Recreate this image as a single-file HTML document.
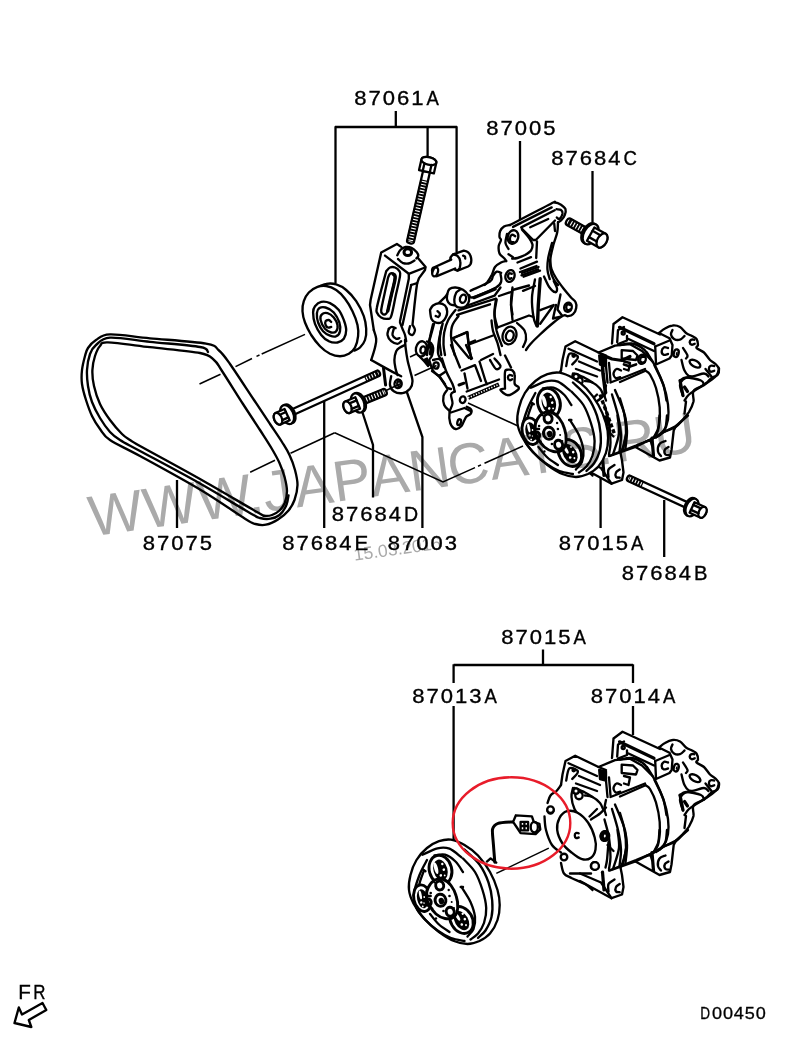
<!DOCTYPE html>
<html>
<head>
<meta charset="utf-8">
<title>D00450</title>
<style>
html,body{margin:0;padding:0;background:#fff;}
body{width:800px;height:1044px;overflow:hidden;}
svg{display:block;}
text{font-family:"Liberation Sans",sans-serif;}
.t{font-size:20.6px;letter-spacing:1.86px;fill:#000;stroke:#000;stroke-width:0.35px;}
.ts{font-size:16.6px;letter-spacing:0.78px;fill:#000;stroke:#000;stroke-width:0.3px;}
.wm{font-size:57.6px;letter-spacing:0.55px;fill:#aaaaaa;}
.wd{font-size:17.6px;fill:#aaaaaa;}
.l{fill:none;stroke:#000;stroke-width:2.3;stroke-linecap:butt;stroke-linejoin:miter;}
.c{fill:none;stroke:#000;stroke-width:1.5;stroke-linecap:butt;}
.k{fill:none;stroke:#000;stroke-width:2.35;stroke-linecap:round;stroke-linejoin:round;}
.w{fill:#fff;stroke:#000;stroke-width:2.35;stroke-linecap:round;stroke-linejoin:round;}
.n{fill:none;stroke:#000;stroke-width:1.4;stroke-linecap:round;stroke-linejoin:round;}
.nw{fill:#fff;stroke:#000;stroke-width:1.4;stroke-linecap:round;stroke-linejoin:round;}
.b{fill:#000;stroke:none;}
.wf{fill:#fff;stroke:none;}
.blend{mix-blend-mode:multiply;}
</style>
</head>
<body>
<svg width="800" height="1044" viewBox="0 0 800 1044">
<rect width="800" height="1044" fill="#fff"/>

<!-- LEADER LINES -->
<g id="leaders">
<path class="l" d="M395.8 111V127"/>
<path class="l" d="M335 127H457"/>
<path class="l" d="M335.5 126.3V283.5"/>
<path class="l" d="M456.6 126.3V252"/>
<path class="l" d="M427.6 127V156.5"/>
<path class="l" d="M520 141V220"/>
<path class="l" d="M592.5 171V222.5"/>
<path class="l" d="M177 480V528"/>
<path class="l" d="M324.2 400V528"/>
<path class="l" d="M362.5 412.5L373 445V497.5"/>
<path class="l" d="M406.5 391L422.4 437V528"/>
<path class="l" d="M600.6 477V528"/>
<path class="l" d="M664.2 500V557"/>
<path class="l" d="M543 649.5V665"/>
<path class="l" d="M453.6 665H633"/>
<path class="l" d="M453.6 664.3V683"/>
<path class="l" d="M633 664.3V683"/>
<path class="l" d="M453.6 706V840"/>
<path class="l" d="M633 706V735"/>
</g>
<!-- CENTER LINES -->
<g id="centerlines">
<path class="c" d="M305 334.4L261.7 354"/>
<path class="c" d="M259.5 355L256.5 356.4"/>
<path class="c" d="M252 358.5L235.5 366.7"/>
<path class="c" d="M220.5 374.2L199.5 384"/>
<path class="c" d="M334.7 432.7L290.5 453.3"/>
<path class="c" d="M275 460.2L250.2 472.2"/>
<path class="c" d="M334.7 432.7L443 482L475 467.6"/>
<path class="c" d="M478 466.2L481 464.9"/>
<path class="c" d="M484.5 463.3L523 446"/>
<path class="c" d="M468 403L518 426"/>
<path class="c" d="M386 390.5L401 383.5"/>
<path class="c" d="M410 357L421.5 351.5"/>
<path class="c" d="M414.5 375.5L436.5 365.5"/>
</g>
<!-- BELT -->
<g id="belt">
<path class="k" d="M110 334.4C119 334.1 134 336.8 150 338.3C166 339.8 194.5 341.6 206 343.6C217.5 345.6 215 347.1 219 350.5C223 353.9 224.2 355.8 230 364C235.8 372.2 247.3 390 254 400C260.7 410 265.3 417 270 424C274.7 431 278.8 436.8 282 442C285.2 447.2 287.3 450.3 289.5 455C291.7 459.7 293.7 465 295 470C296.3 475 297.6 480 297.5 485C297.4 490 296 495.8 294.5 500C293 504.2 291.2 507.2 288.5 510.5C285.8 513.8 281.8 517.1 278 519.5C274.2 521.9 269.8 524 266 524.7C262.2 525.5 259 525 255.5 524C252 523 254.2 524.5 245 518.7C235.8 513 217.5 499.9 200 489.5C182.5 479.1 155 464.2 140 456C125 447.8 116.7 444.5 110 440C103.3 435.5 103 433 100 429C97 425 94.3 420.8 92 416C89.7 411.2 87.7 405.3 86 400C84.3 394.7 82.7 389 82 384C81.3 379 81.5 374.7 82 370C82.5 365.3 84 359.7 85 356C86 352.3 86.2 350.7 88 348C89.8 345.3 92.3 342.3 96 340C99.7 337.7 101 334.7 110 334.4Z"/>
<path class="k" d="M108 342.4C116.3 342.6 134.7 345.4 150 347.2C165.3 349 189.3 350.9 200 353C210.7 355.1 210.3 357 214 360C217.7 363 217.2 363.7 222 371C226.8 378.3 236.7 394.2 243 404C249.3 413.8 255.2 422.5 260 430C264.8 437.5 268.8 443.5 272 449C275.2 454.5 277.4 458.2 279.5 463C281.6 467.8 283.4 472.8 284.7 477.5C285.9 482.2 287 486.8 287 491C287 495.2 285.9 499.8 284.7 503C283.4 506.2 281.6 508.5 279.5 510.5C277.4 512.5 274.5 514.1 272 515C269.5 515.9 267 516.2 264.5 515.7C262 515.2 267.8 518.1 257 512C246.2 505.9 219.5 490 200 479C180.5 468 151.7 452.5 140 446C128.3 439.5 133 442 130 440C127 438 125.3 437.3 122 434C118.7 430.7 113.7 425 110 420C106.3 415 102.7 409.7 100 404C97.3 398.3 95.3 391.7 94 386C92.7 380.3 92.2 375 92.4 370C92.6 365 93.7 360 95 356C96.3 352 97.8 348.3 100 346C102.2 343.7 99.7 342.2 108 342.4Z"/>
<path class="k" d="M208 352C206.7 351.2 209.7 348.7 200 347C190.3 345.3 165 343.4 150 341.8C135 340.2 119 337.1 110 337.6C101 338.1 99.3 342.3 96 345C92.7 347.7 91.5 349.8 90 354C88.5 358.2 87.3 364.7 87 370C86.7 375.3 87.2 380.7 88 386C88.8 391.3 90 396.7 92 402C94 407.3 97 413 100 418C103 423 106.7 428.3 110 432C113.3 435.7 115 436.8 120 440C125 443.2 126.7 443.8 140 451C153.3 458.2 181.8 473.2 200 483.5C218.2 493.8 239.5 507 249.5 512.7C259.5 518.5 256.5 517 260 518C263.5 519 267.2 519.2 270.5 518.7C273.8 518.2 276.9 517.1 279.5 515C282.1 512.9 284.5 509.2 286 506C287.5 502.8 288.1 497.2 288.5 495.5"/>
</g>
<!-- IDLER PULLEY -->
<g id="pulley">
<path class="w" d="M319.4 286.5C320.5 286 323.4 284.1 326.2 283.8C329.1 283.4 332.9 283.3 336.2 284.4C339.6 285.4 342.9 287.2 346.2 290C349.6 292.8 353.3 296.9 356.2 301.2C359.2 305.6 362.1 311.7 363.8 316.2C365.4 320.8 366 324.8 366.2 328.8C366.5 332.7 366 336.9 365 340C364 343.1 361.8 345.7 360 347.5C358.2 349.3 355.3 350.1 354.4 350.6"/>
<path class="w" d="M302.5 311.2C302.3 307.7 302.7 304.4 303.8 301.2C304.8 298.1 306.5 294.9 308.8 292.5C311 290.1 314.6 288 317.5 286.9C320.4 285.8 323.1 285.5 326.2 286C329.4 286.5 333.1 287.9 336.2 290C339.4 292.1 342.3 295.2 345 298.8C347.7 302.3 350.4 306.9 352.5 311.2C354.6 315.6 356.6 320.8 357.5 325C358.4 329.2 358.5 332.5 358.1 336.2C357.7 340 356.6 344.6 355 347.5C353.4 350.4 351.2 352.3 348.8 353.8C346.2 355.2 343.1 356.2 340 356.2C336.9 356.2 333.3 355.4 330 353.8C326.7 352.1 323.1 349.4 320 346.2C316.9 343.1 313.8 339 311.2 335C308.8 331 306.5 326.5 305 322.5C303.5 318.5 302.7 314.8 302.5 311.2Z"/>
<path class="k" d="M313.1 312.5C313.1 309.6 313.6 308 315 306.2C316.4 304.5 318.8 302.4 321.2 301.9C323.8 301.4 327.1 301.8 330 303.1C332.9 304.5 336.5 307.2 338.8 310C341 312.8 342.5 316.7 343.8 320C345 323.3 346.2 326.9 346.2 330C346.2 333.1 345.2 336.7 343.8 338.8C342.3 340.8 340 342.1 337.5 342.5C335 342.9 331.5 342.5 328.8 341.2C326 340 323.5 337.9 321.2 335C319 332.1 316.4 327.5 315 323.8C313.6 320 313.1 315.4 313.1 312.5Z"/>
<path class="k" d="M316.9 313.1C317.1 310.7 317.9 309.1 319.4 308.1C320.8 307.2 323.2 306.8 325.6 307.5C328 308.2 331.5 310 333.8 312.5C336 315 338.3 319.4 339.4 322.5C340.4 325.6 340.5 329 340 331.2C339.5 333.5 337.9 335.5 336.2 336.2C334.6 337 332.2 336.5 330 335.6C327.8 334.8 325.1 333.4 323.1 331.2C321.1 329.1 319.2 325.5 318.1 322.5C317.1 319.5 316.7 315.5 316.9 313.1Z"/>
<path class="k" d="M320.6 320C320.1 317.6 320.7 315.5 321.9 314.4C323 313.2 325.5 312.6 327.5 313.1C329.5 313.6 332.1 315.5 333.8 317.5C335.4 319.5 337.1 322.7 337.5 325C337.9 327.3 337.3 330 336.2 331.2C335.2 332.5 333.1 332.9 331.2 332.5C329.4 332.1 326.8 330.8 325 328.8C323.2 326.7 321.1 322.4 320.6 320Z"/>
<path class="k" d="M331.2 321.9C330.8 321.6 329.7 320.1 328.8 320C327.8 319.9 326.1 320.4 325.6 321.2C325.1 322.1 325.2 324 325.6 325C326 326 327.2 327.2 328.1 327.5C329.1 327.8 330.7 327 331.2 326.9"/>
</g>
<!-- TENSIONER BRACKET 87003 -->
<g id="tens">
<path class="k" d="M386.2 271.2C386.9 270.6 388.5 268.1 390 267.5C391.5 266.9 393.4 266.9 395 267.5C396.6 268.1 398.5 269.8 399.4 271.2C400.2 272.7 400.6 272.1 400 276.2C399.4 280.4 397.1 289.6 395.6 296.2C394.2 302.9 392.6 312.5 391.2 316.2C389.9 320 389.2 318.5 387.5 318.8C385.8 319 383 318.5 381.2 317.5C379.5 316.5 377.6 314.2 376.9 312.5C376.1 310.8 376.1 311.2 376.9 307.5C377.6 303.8 379.7 296 381.2 290C382.8 284 385.4 274.4 386.2 271.2"/>
<path class="k" d="M388.1 277.5C388.4 276.9 389.2 274.4 390 273.8C390.8 273.1 392.3 273.1 393.1 273.8C394 274.4 395.3 274.1 395 277.5C394.7 280.9 392.8 288.8 391.5 294.4C390.2 300 388.6 307.9 387.5 311.2C386.4 314.6 385.8 314 385 314.4C384.2 314.8 383.1 314.5 382.5 313.8C381.9 313 380.9 313.2 381.2 310C381.6 306.8 383.2 299.8 384.4 294.4C385.5 289 387.5 280.3 388.1 277.5"/>
<path class="k" d="M397.3 255.3C397.8 254.4 398.9 251.4 400.3 250C401.6 248.6 403.6 247.4 405.5 247C407.4 246.6 409.6 246.9 411.5 247.8C413.4 248.6 415.6 250.9 416.8 252.3C417.9 253.6 418.3 255 418.3 256C418.2 257 416.7 258 416.4 258.4"/>
<path class="k" d="M398 259C398.8 259.6 400.8 262 402.5 262.8C404.3 263.5 406.5 263.9 408.5 263.5C410.5 263.1 413.5 261 414.5 260.5"/>
<path class="k" d="M373.8 330C374.2 331.5 376 335.8 376.2 338.8C376.5 341.7 375.8 344 375 347.5C374.2 351 371.9 357.9 371.2 360"/>
<path class="k" d="M391.2 376.2C391 377.7 389.6 382.5 390 385C390.4 387.5 391.7 389.9 393.8 391.2C395.8 392.6 399.8 393.5 402.5 393.1C405.2 392.7 408.3 390.7 410 388.8C411.7 386.8 412.5 384.4 412.5 381.2C412.5 378.1 410.8 373.5 410 370C409.2 366.5 408.2 363.8 407.5 360C406.8 356.2 406 350.8 405.6 347.5C405.2 344.2 405.1 341.2 405 340"/>
<path class="k" d="M405 345C404.2 345.4 401.5 346.5 400 347.5C398.5 348.5 397.2 349.2 396.2 351.2C395.3 353.3 394.5 357.1 394.4 360C394.3 362.9 395.1 366.2 395.6 368.8C396.1 371.2 397.2 374 397.5 375"/>
<path class="k" d="M388.8 328.8C388.5 329.8 387.1 332.9 387.5 335C387.9 337.1 389.6 339.8 391.2 341.2C392.9 342.7 395.8 343.8 397.5 343.8C399.2 343.8 400.6 341.7 401.2 341.2"/>
<path class="k" d="M393.8 328.8C393.5 329.8 392.1 333.3 392.5 335C392.9 336.7 395.1 338.2 396.2 338.8C397.4 339.3 398.9 338.2 399.4 338.1"/>
<path class="k" d="M388.8 328.8C389.3 328.4 390.7 327 391.9 326.9C393 326.8 395 327.9 395.6 328.1"/>
<path class="k" d="M400 322.5C400.4 323.5 401.7 326.7 402.5 328.8C403.3 330.8 404.4 332.9 405 335C405.6 337.1 406 340.2 406.2 341.2"/>
<path class="k" d="M410 326.2C409.8 327.3 408.3 331 408.8 332.5C409.2 334 411.5 335.4 412.5 335C413.5 334.6 414.9 331.6 415 330C415.1 328.4 413.4 326.4 413.1 325.6"/>
<path class="k" d="M373.8 330 L370 305 L370.6 300 L381.2 252.5 L396.9 244 L401.2 246.9"/>
<path class="k" d="M417.5 257.5 L425.6 266.9 L425 270 L419 278.1 L417.2 283.1 L416.2 290 L414.5 305 L412.5 325"/>
<path class="k" d="M417.2 283.1 L411 285"/>
<path class="k" d="M385 255.6 L408.8 273.8 L425 267.5"/>
<path class="k" d="M408.8 273.8 L408.8 278.8 L400 321.2"/>
<path class="k" d="M411.2 285 L402.5 325"/>
<path class="k" d="M371.2 360 L381.2 365.6 L392.5 371.9 L401.2 376.2"/>
<ellipse class="w" cx="407.8" cy="252.2" rx="3.8" ry="3.4" style="stroke-width:3"/>
<path class="k" d="M383.5 368.1 L385.6 385" style="stroke-width:3"/>
<path class="k" d="M393.1 274C393.5 274.6 395.5 274.4 395.2 277.8C395 281.1 392.8 288.8 391.5 294.4C390.2 299.9 388.4 308.2 387.8 311" style="stroke-width:3.4"/>
<ellipse class="k" cx="398.1" cy="383.8" rx="3.6" ry="4.3" transform="rotate(10 398.1 383.8)"/>
<path class="k" d="M400.6 381.9C400.2 381.8 398.7 381.1 398.1 381.5C397.6 381.9 397.1 383.2 397.2 384C397.4 384.8 398.2 386.2 398.8 386.5C399.3 386.8 400.3 386.1 400.6 386"/>
</g>
<!-- BOLTS -->
<g id="bolts">
<g transform="translate(278,418.7) rotate(-24.4)">
<path class="w" style="stroke-width:2.3" d="M10 -2.9L109.8 -2.9A1.8 2.9 0 0 1 109.8 2.9L10 2.9Z"/>
<path d="M95.8 0L109.8 0" stroke="#000" stroke-width="7" fill="none"/>
<path d="M97 0L109 0" stroke="#fff" stroke-width="3.6" stroke-dasharray="1.1 1.9" fill="none"/>
<ellipse class="w" style="stroke-width:2.3" cx="11.6" cy="0" rx="6.2" ry="10"/>
<ellipse class="w" style="stroke-width:2.3" cx="10" cy="0" rx="6.2" ry="10"/>
<path class="w" style="stroke-width:2.3" d="M10 -6.2L0 -6.2A3.8 6.2 0 0 0 0 6.2L10 6.2Z"/>
<ellipse class="w" style="stroke-width:2.3" cx="0" cy="0" rx="3.8" ry="6.2"/>
<path class="k" style="stroke-width:2.3" d="M3.3 -2.8L10 -2.8M3.3 3.1L10 3.1"/>
</g>
<g transform="translate(347.5,407.2) rotate(-22.3)">
<path class="w" style="stroke-width:2.3" d="M11 -3.3L40 -3.3A2 3.3 0 0 1 40 3.3L11 3.3Z"/>
<path d="M16 0L40 0" stroke="#000" stroke-width="7.8" fill="none"/>
<path d="M17.2 0L39.2 0" stroke="#fff" stroke-width="4.4" stroke-dasharray="1.1 1.9" fill="none"/>
<ellipse class="w" style="stroke-width:2.3" cx="12.6" cy="0" rx="6.2" ry="10"/>
<ellipse class="w" style="stroke-width:2.3" cx="11" cy="0" rx="6.2" ry="10"/>
<path class="w" style="stroke-width:2.3" d="M11 -6.2L0 -6.2A3.8 6.2 0 0 0 0 6.2L11 6.2Z"/>
<ellipse class="w" style="stroke-width:2.3" cx="0" cy="0" rx="3.8" ry="6.2"/>
<path class="k" style="stroke-width:2.3" d="M3.3 -2.8L11 -2.8M3.3 3.1L11 3.1"/>
</g>
<g transform="translate(428.9,161) rotate(102.9)">
<path class="w" style="stroke-width:2.3" d="M11 -3.5L82.6 -3.5A1.8 3.5 0 0 1 82.6 3.5L11 3.5Z"/>
<path d="M19.6 0L82.6 0" stroke="#000" stroke-width="8.2" fill="none"/>
<path d="M20.8 0L81.8 0" stroke="#fff" stroke-width="4.8" stroke-dasharray="1.1 1.9" fill="none"/>
<path class="w" style="stroke-width:2.3" d="M11 -7.6L0 -7.6A3.8 7.6 0 0 0 0 7.6L11 7.6Z"/>
<ellipse class="w" style="stroke-width:2.3" cx="0" cy="0" rx="3.8" ry="7.6"/>
<path class="k" style="stroke-width:2.3" d="M3.2 -3.4L11 -3.4M3.2 3.8L11 3.8"/>
</g>
<g transform="translate(602,240.5) rotate(-150.8)">
<path class="w" style="stroke-width:2.3" d="M13 -3.6L38.4 -3.6A2.2 3.6 0 0 1 38.4 3.6L13 3.6Z"/>
<path d="M18.4 0L38.4 0" stroke="#000" stroke-width="8.4" fill="none"/>
<path d="M19.6 0L37.6 0" stroke="#fff" stroke-width="5" stroke-dasharray="1.1 1.9" fill="none"/>
<ellipse class="w" style="stroke-width:2.3" cx="14.6" cy="0" rx="6.8" ry="11"/>
<ellipse class="w" style="stroke-width:2.3" cx="13" cy="0" rx="6.8" ry="11"/>
<path class="w" style="stroke-width:2.3" d="M13 -7.6L0 -7.6A4.7 7.6 0 0 0 0 7.6L13 7.6Z"/>
<ellipse class="w" style="stroke-width:2.3" cx="0" cy="0" rx="4.7" ry="7.6"/>
<path class="k" style="stroke-width:2.3" d="M4 -3.4L13 -3.4M4 3.8L13 3.8"/>
</g>
<g transform="translate(702.5,512.3) rotate(-155.2)">
<path class="w" style="stroke-width:2.3" d="M11.5 -2.9L81 -2.9A1.8 2.9 0 0 1 81 2.9L11.5 2.9Z"/>
<path d="M66 0L81 0" stroke="#000" stroke-width="7" fill="none"/>
<path d="M67.2 0L80.2 0" stroke="#fff" stroke-width="3.6" stroke-dasharray="1.1 1.9" fill="none"/>
<ellipse class="w" style="stroke-width:2.3" cx="13.1" cy="0" rx="5.8" ry="9.4"/>
<ellipse class="w" style="stroke-width:2.3" cx="11.5" cy="0" rx="5.8" ry="9.4"/>
<path class="w" style="stroke-width:2.3" d="M11.5 -5.8L0 -5.8A3.6 5.8 0 0 0 0 5.8L11.5 5.8Z"/>
<ellipse class="w" style="stroke-width:2.3" cx="0" cy="0" rx="3.6" ry="5.8"/>
<path class="k" style="stroke-width:2.3" d="M3.1 -2.6L11.5 -2.6M3.1 2.9L11.5 2.9"/>
</g>
<path class="w" d="M453.1 254.4L463.8 250.6C472.5 251.9 473.1 263.8 468.1 266.5L457.5 270.6C450 268.8 448.1 257.5 453.1 254.4Z"/>
<path class="k" d="M453.1 254.4C453.9 254.6 456.3 254.7 457.5 255.9C458.7 257 459.9 259.3 460.2 261.2C460.6 263.2 460.2 265.9 459.8 267.5C459.3 269.1 457.9 270.1 457.5 270.6"/>
<path class="k" d="M463.1 255.6 L465 256.5 L465.2 258.5"/>
<path class="w" d="M455.2 268.5 L436.9 276.2C431.9 276.5 430.6 268.1 433.8 267.5L451.2 259.6"/>
<ellipse class="w" cx="435.2" cy="271.9" rx="2.6" ry="4.6" transform="rotate(20 435.2 271.9)"/>
</g>
<!-- BRACKET 87005 -->
<g id="bracket">
<path class="k" d="M510 225C516.7 221.5 543 207.7 550.5 204C558 200.2 553.2 202.4 555 202.5C556.7 202.6 559.2 203.6 561 204.7C562.7 205.9 564.9 207.5 565.5 209.2C566.1 211 565.4 213.5 564.7 215.2C564.1 217 562.9 218.6 561.7 219.7C560.6 220.9 558.6 221.9 558 222.3"/>
<path class="k" d="M556.5 209.2C557.2 209.4 560 209.2 561 210C562 210.7 562.7 212.2 562.5 213.7C562.2 215.2 560.4 218.4 559.5 219C558.5 219.6 557.2 217.7 556.8 217.5"/>
<path class="k" d="M510 225C509 225.2 505.6 225.5 504 226.5C502.4 227.5 501 229.2 500.2 231C499.5 232.7 499.4 235.5 499.5 237C499.6 238.5 501.1 238.5 501 240C500.9 241.5 499 243.7 498.7 246C498.5 248.2 498.6 251.5 499.5 253.5C500.4 255.5 502.9 256.7 504 258C505.1 259.2 505.9 260.5 506.2 261"/>
<path class="k" d="M507 234C506.7 235.5 505.2 240.5 505.5 243C505.7 245.5 508 248 508.5 249"/>
<path class="k" d="M522 229.5C523.2 231 527.7 236 529.5 238.5C531.2 241 532.2 242.5 532.5 244.5C532.7 246.5 532.2 248.7 531 250.5C529.7 252.2 527.2 253.7 525 255C522.7 256.2 519.6 257.4 517.5 258C515.4 258.6 513.1 258.6 512.2 258.7"/>
<path class="k" d="M558 222.3C557.9 224 558 228.8 557.2 232.5C556.5 236.2 554.6 240.2 553.5 244.5C552.4 248.7 551 253.7 550.5 258C550 262.2 550 266.5 550.5 270C551 273.5 552.2 276.5 553.5 279C554.7 281.5 557.2 284 558 285"/>
<path class="k" d="M554.2 223.5 L555 231"/>
<path class="k" d="M552 243C551.4 245.5 549 253.5 548.2 258C547.5 262.5 547.2 266.5 547.5 270C547.7 273.5 549.4 277.5 549.7 279"/>
<path class="k" d="M506.2 261C505.4 261.2 502.9 261.5 501 262.5C499.1 263.5 496.5 265 495 267C493.5 269 493.2 272 492 274.5C490.7 277 488.7 280.2 487.5 282C486.2 283.7 485 284.5 484.5 285"/>
<path class="k" d="M513 226.9 L551.7 207.4"/>
<path class="k" d="M521.2 227.4 L554.7 210.3"/>
<path class="k" d="M530.2 227.2 L548.2 219"/>
<path class="k" d="M522 228.9 L533.2 240 L535.8 240 L555 220.5"/>
<path class="k" d="M537 241.5 L536.2 258"/>
<path class="k" d="M508.5 254.2 L513 257.2"/>
<path class="k" d="M517.5 262.5 L531 257.2"/>
<path class="k" d="M520.5 268.5 L537 261.7"/>
<path class="k" d="M522 273 L538.5 267"/>
<path class="k" d="M523.5 276.7 L540 270.7"/>
<ellipse class="k" cx="513" cy="237" rx="5.2" ry="6.8" transform="rotate(15 513 237)"/>
<path class="k" d="M515.2 236.2C514.7 236 513.1 234.5 512.2 234.7C511.4 235 510.2 236.6 510 237.7C509.7 238.9 510.1 240.7 510.7 241.5C511.4 242.2 513.2 242.1 513.7 242.2"/>
<ellipse class="k" cx="510" cy="276" rx="4.5" ry="6" transform="rotate(15 510 276)"/>
<path class="k" d="M511.8 273.7C511.4 273.7 509.9 272.9 509.2 273.3C508.6 273.7 508 275.1 508 276C508 276.9 508.7 278.3 509.2 278.7C509.8 279.1 511.1 278.3 511.5 278.2"/>
<path class="k" d="M455.5 305.5C454.6 305.3 451.6 305.2 450.2 304.3C448.9 303.4 447.7 301.9 447.2 300.2C446.7 298.6 446.9 296.1 447.2 294.2C447.6 292.4 448.1 290.1 449.5 289C450.9 287.9 453.2 287.4 455.5 287.5C457.7 287.6 460.9 288.5 463 289.7C465.1 291 467.2 293.1 468.2 295C469.2 296.9 469.4 299.1 469 301C468.6 302.9 467.5 305.1 466 306.2C464.5 307.4 461.7 307.9 460 307.7C458.2 307.6 456.4 306.9 455.5 305.5C454.5 304.1 454.2 301.6 454.3 299.5C454.4 297.4 455.3 294.4 456.2 292.7C457.2 291.1 459.4 290.2 460 289.7"/>
<path class="k" d="M470.5 290.8C473.7 289.2 486.2 284 490 281.5C493.7 279 491.9 277.4 493 275.8C494.1 274.2 495.4 272.2 496.7 271.7C498.1 271.2 500.5 272.6 501.2 272.8"/>
<path class="k" d="M469.3 295.3C470 295.6 469 298.5 473.5 297.2C477.9 295.9 491.4 290.1 496 287.5C500.6 284.9 500.5 283.7 501.2 281.5C502 279.2 500.6 275.2 500.5 274"/>
<path class="k" d="M430 310C430.5 309.2 431.5 306.6 433 305.5C434.5 304.4 437 303.2 439 303.2C441 303.2 443.6 304.1 445 305.5C446.4 306.9 447.1 309.5 447.2 311.5C447.4 313.5 446.6 315.7 445.7 317.5C444.9 319.2 443.6 321.1 442 322C440.4 322.9 437.7 323.2 436 322.7C434.2 322.2 432.5 321.1 431.5 319C430.5 316.9 430.2 311.5 430 310"/>
<path class="k" d="M437.5 311.2C437.9 311.6 439.7 312.8 439.9 313.7C440 314.7 439.1 316.5 438.4 316.9C437.7 317.3 436.1 316.1 435.7 316"/>
<path class="k" d="M433 324.2C432.5 326.4 430.7 333.6 430 337C429.2 340.4 429 341.5 428.5 344.5C428 347.5 427.2 353.2 427 355"/>
<path class="k" d="M442.7 323.5C442.4 325 441 329.2 440.5 332.5C440 335.7 439.6 339.2 439.7 343C439.9 346.7 441 353 441.2 355"/>
<path class="k" d="M455.5 310C454.2 311.7 449.9 316.7 448 320.5C446.1 324.2 445 328.5 444.2 332.5C443.5 336.5 443.4 340.7 443.5 344.5C443.6 348.2 444.7 353.2 445 355"/>
<path class="k" d="M458.5 316C457.5 317.5 453.7 321.7 452.5 325C451.2 328.2 451 332 451 335.5C451 339 451.9 342.7 452.5 346C453.1 349.2 454.4 353.5 454.7 355"/>
<path class="k" d="M491.5 320.5C491.7 322.2 492 327.2 493 331C494 334.7 496.2 339 497.5 343C498.7 347 500 353 500.5 355"/>
<path class="k" d="M496.7 299.5C496.4 302 494.5 309.2 494.5 314.5C494.5 319.7 495.5 325.7 496.7 331C498 336.2 501.1 343.5 502 346"/>
<path class="k" d="M512.5 287.5C512.2 290 511 298 511 302.5C511 307 512.2 312.5 512.5 314.5"/>
<path class="k" d="M467.5 305.5 L494.5 295.7 L500.5 287.5"/>
<path class="k" d="M458.5 310.3 L496 298.7"/>
<path class="k" d="M457 314.8 L490 304.3"/>
<path class="k" d="M439 302.8 L445 297.2 L447.2 294.2"/>
<path class="k" d="M452.5 338.5 L467.5 332.2 L468.4 343.7 L470.5 355"/>
<path class="k" d="M469 344.5 L493 335.5"/>
<path class="k" d="M523 290.8 L535 286"/>
<path class="k" d="M473.8 297.7 L495.2 289" style="stroke-width:3.2"/>
<ellipse class="k" cx="463" cy="298.7" rx="3" ry="4.2" transform="rotate(15 463 298.7)"/>
<ellipse class="k" cx="509.5" cy="335.5" rx="6.8" ry="9" transform="rotate(15 509.5 335.5)"/>
<ellipse class="k" cx="509.8" cy="335.8" rx="3.8" ry="5.2" transform="rotate(15 509.8 335.8)"/>
<path class="k" d="M429.2 360C429.9 361.7 431.2 367.6 433 370.5C434.7 373.4 437.7 375 439.7 377.2C441.7 379.5 444.1 382.9 445 384"/>
<path class="k" d="M442 358.5C442.7 360.7 444.7 367.7 446.5 372C448.2 376.2 451.1 380.7 452.5 384C453.9 387.2 454.4 390.2 454.7 391.5"/>
<path class="k" d="M454.7 391.5C454.1 392 451.4 392.5 451 394.5C450.6 396.5 452.7 400.5 452.5 403.5C452.2 406.5 449.9 409.2 449.5 412.5C449.1 415.7 449.2 420.2 450.2 423C451.2 425.7 453.6 428.5 455.5 429C457.4 429.5 459.7 428 461.5 426C463.2 424 464.5 419 466 417C467.5 415 469.6 415.2 470.5 414C471.4 412.7 471.9 410.7 471.2 409.5C470.6 408.3 467.5 407.2 466.7 406.8"/>
<path class="k" d="M447.2 390C446.6 391 444 393.5 443.5 396C443 398.5 443.2 402.5 444.2 405C445.2 407.5 448.6 410 449.5 411"/>
<path class="k" d="M505 388.5C505 385.7 504.5 375.1 505 372C505.5 368.9 506.7 370 508 369.7C509.2 369.5 511.4 369.6 512.5 370.5C513.6 371.4 514.4 372.7 514.7 375C515.1 377.2 514.1 382 514.7 384C515.4 386 518 386 518.5 387C519 388 519.5 388.6 517.7 390C516 391.4 510.9 395.2 508 395.2C505.1 395.2 501 391.1 500.5 390C500 388.9 504.2 388.7 505 388.5"/>
<path class="k" d="M512.2 375.7C511.7 375.6 510.2 374.7 509.5 375C508.8 375.3 507.9 376.8 508 377.7C508 378.6 509.1 380 509.8 380.2C510.5 380.5 511.8 379.4 512.2 379.2"/>
<path class="k" d="M490 360C491 361.5 494.2 368 496 369C497.7 370 500.7 367.7 500.5 366C500.2 364.2 495.5 359.7 494.5 358.5"/>
<path class="k" d="M451 412.5 L464.5 408 L470.5 411"/>
<path class="k" d="M466.7 391.5 L499 379.5"/>
<path class="k" d="M461.5 370.5 L475 365.2 L481 381"/>
<path class="k" d="M464.5 373.5 L467.5 388.5"/>
<path class="k" d="M479.5 361.5 L485.5 381 L487 384.3"/>
<path class="k" d="M481 360 L493 354"/>
<path class="k" d="M505 355.5 L511 367.5"/>
<path class="k" d="M451 345 L460 367.5"/>
<path class="k" d="M466 345 L472 358.5"/>
<path class="k" d="M468.2 397.8 L499 384.3" style="stroke-width:4.2;stroke-linecap:butt"/>
<path class="k" d="M468.2 397.8 L499 384.3" style="stroke:#fff;stroke-width:1.6;stroke-dasharray:1.2 1.6;stroke-linecap:butt"/>
<ellipse class="k" cx="462.7" cy="399.7" rx="2.8" ry="3.4" transform="rotate(15 462.7 399.7)"/>
<ellipse class="k" cx="459.2" cy="422.2" rx="1.8" ry="3" transform="rotate(15 459.2 422.2)"/>
<path class="k" d="M550 260C550.2 261.5 550.5 266 551.5 269C552.5 272 554 274.7 556 278C558 281.2 561 285.2 563.5 288.5C566 291.7 569 295.2 571 297.5C573 299.7 574.6 300.2 575.5 302C576.4 303.7 576.6 306 576.2 308C575.9 310 574.6 312.6 573.2 314C571.9 315.4 569.6 316 568 316.2C566.4 316.5 566 314.4 563.5 315.5C561 316.6 557 319.7 553 323C549 326.2 543.2 331.5 539.5 335C535.7 338.5 532.7 341.5 530.5 344C528.2 346.5 526.7 349 526 350"/>
<path class="k" d="M544 276.5C544.9 278.2 547.4 284.4 549.2 287C551.1 289.6 553.9 292 555.2 292.2C556.5 292.5 557.3 290.4 557 288.5C556.8 286.6 554.3 282.2 553.7 281"/>
<path class="k" d="M535 279.5C534.5 282.5 532.2 291.2 532 297.5C531.7 303.7 532.7 312.2 533.5 317C534.2 321.7 536 324.5 536.5 326"/>
<path class="k" d="M496 299C495.7 301.5 494.2 309.2 494.5 314C494.7 318.7 497 325.2 497.5 327.5"/>
<path class="k" d="M517 323C518.2 324.2 523 327.7 524.5 330.5C526 333.2 526.2 336.7 526 339.5C525.7 342.2 523.5 345.7 523 347"/>
<path class="k" d="M540.2 310.2 L553.7 305 L540.2 323.7"/>
<path class="k" d="M556 305 L553 318.5 L560.5 316.7"/>
<path class="k" d="M520 272 L536.5 266"/>
<path class="k" d="M521.5 275.3 L538 269.3"/>
<path class="k" d="M512.5 290 L529 285.5"/>
<path class="k" d="M499 296 L512.5 291.5 L511 305 L512.5 320"/>
<path class="k" d="M497.5 327.5 L529 315.5 L533.5 317"/>
<path class="k" d="M560.5 294.5 L557.5 309.5 L562 315.5"/>
<path class="k" d="M540.2 278.7 L538.3 305 L537.4 326" style="stroke-width:3.4"/>
<ellipse class="k" cx="568" cy="307.2" rx="3.8" ry="4.6" transform="rotate(15 568 307.2)"/>
<path class="k" d="M570.2 305C569.8 304.9 568.4 303.9 567.7 304.2C567 304.6 566.2 306.2 566.2 307.2C566.2 308.2 567 309.9 567.7 310.2C568.4 310.6 569.8 309.6 570.2 309.5"/>
<path class="k" d="M427 341.5C427.7 341.8 430 341.9 431 343C432 344.1 433 346 433.2 348C433.4 350 432.7 353.2 432.2 355C431.7 356.8 430.4 357.9 430 358.5"/>
<path class="k" d="M419 356C419.8 356.8 422.5 359.3 424 361C425.5 362.7 427.3 365.2 428 366"/>
<path class="k" d="M433 360C434 359.8 437.5 358.7 439 359C440.5 359.3 441.2 360.7 442 362C442.8 363.3 443.7 366.2 444 367"/>
<path class="k" d="M434 324C433.5 325.8 431.8 332 431 335C430.2 338 429.3 340.8 429 342"/>
<path class="k" d="M442 326C441.5 328.3 439.7 335.5 439 340C438.3 344.5 437.8 350 438 353C438.2 356 439.7 357.2 440 358"/>
<path class="k" d="M432 371 L439 376 L442 374 L445 372"/>
<path class="k" d="M440 377 L447 388 L451 389"/>
<path class="k" d="M453 338 L467 332 L469 346 L471 359"/>
<path class="k" d="M454 340 L469 358"/>
<path class="k" d="M469 343 L475 340.5"/>
<path class="k" d="M429.5 344.5 L431.2 349 L430.5 354" style="stroke-width:3.5"/>
<path class="k" d="M424 360 L429 365 L427 358.5Z" style="fill:#000"/>
<path class="k" d="M459 385 L464 383.2" style="stroke-width:3"/>
<ellipse class="w" cx="421.5" cy="348.8" rx="5.6" ry="7.6" transform="rotate(10 421.5 348.8)"/>
<ellipse class="k" cx="423" cy="350" rx="2.6" ry="3.6" transform="rotate(10 423 350)"/>
<ellipse class="k" cx="436" cy="365.5" rx="2.6" ry="3.1" transform="rotate(10 436 365.5)"/>
</g>
<!-- COMPRESSOR 87014A (lower) -->
<g id="compL">
<path class="k" d="M547.5 803C548 801.7 549 797.5 550.5 795.5C552 793.5 554.7 792.7 556.5 791C558.2 789.2 560.2 786 561 785"/>
<path class="k" d="M566.2 780.5C566.7 778.5 567.5 770.2 569.2 768.5C571 766.7 575.4 769.2 576.7 770C578.1 770.7 578.2 771.5 577.5 773C576.7 774.5 573.1 778 572.2 779"/>
<path class="k" d="M574.5 788C576.2 788.7 582 791 585 792.5C588 794 591.2 796.2 592.5 797"/>
<path class="k" d="M621 785C620.2 784.7 617.7 783 616.5 783.5C615.2 784 613.6 786.5 613.5 788C613.4 789.5 614.6 791.9 615.7 792.5C616.9 793.1 619.5 791.9 620.2 791.7"/>
<path class="k" d="M573 788C572.7 789.5 571.2 793.5 571.5 797C571.7 800.5 573.2 806 574.5 809C575.7 812 578.2 814 579 815"/>
<path class="k" d="M585 795.5C586.2 795.7 590 795.7 592.5 797C595 798.2 598.2 801 600 803C601.7 805 602.5 808 603 809"/>
<path class="k" d="M606 800C605.7 801.5 604.5 806.5 604.5 809C604.5 811.5 605.7 814 606 815"/>
<path class="k" d="M561 785 L562.5 774.5 L565.5 761 L575.2 755.7 L598.5 767 L606 770"/>
<path class="k" d="M568.5 763.2 L597 776"/>
<path class="k" d="M579 776 L600 785"/>
<path class="k" d="M576 783.5 L597 791"/>
<path class="k" d="M612 758 L613.5 738.5 L622.5 731.7 L660 749"/>
<path class="k" d="M617.2 756.5 L618 744.5 L624 741.5"/>
<path class="k" d="M627 750.5 L627 755 L618 758.7"/>
<path class="k" d="M628.5 753.5 L654 765.5"/>
<path class="k" d="M598.5 767 L615 760.2 L630 758.7 L642 765.5 L652.5 776"/>
<path class="k" d="M606 780.5 L607.5 797"/>
<path class="k" d="M609 777.5 L610.5 795.5"/>
<path class="k" d="M621.7 764.7 L621.7 773 L636 774.5 L637.5 770 L633 765.5 L621.7 764.7"/>
<path class="k" d="M624 776 L630 777.5 L628.5 785 L624 783.5"/>
<path class="k" d="M610.5 797 L630 789.5 L645 783.5"/>
<path class="k" d="M619.5 741.8 L654 758.3" style="stroke-width:3.2"/>
<path class="k" d="M599.2 770 L600 779 L606 780.5 L606 771.5Z" style="fill:#000"/>
<ellipse class="k" cx="623.2" cy="747.5" rx="1.5" ry="1.5"/>
<ellipse class="w" cx="579" cy="795.5" rx="3.7" ry="3.7"/>
<ellipse class="w" cx="576" cy="791" rx="2.7" ry="2.7"/>
<ellipse class="w" cx="550.5" cy="810.5" rx="3" ry="3"/>
<ellipse class="k" cx="573.7" cy="770" rx="1.2" ry="1.2"/>
<path class="k" d="M668 762.5C667.4 762.4 665.3 761.2 664.2 761.7C663.2 762.2 661.8 764.2 661.7 765.5C661.6 766.7 662.4 768.7 663.5 769.2C664.5 769.7 667.2 768.6 668 768.5"/>
<path class="k" d="M659 747.5C660 746.7 662.7 744.2 665 743C667.2 741.7 670 740.2 672.5 740C675 739.7 677.7 740.2 680 741.5C682.2 742.7 684 746 686 747.5C688 749 690.2 749.5 692 750.5C693.7 751.5 695.5 752 696.5 753.5C697.5 755 698 758 698 759.5C698 761 695.5 761.2 696.5 762.5C697.5 763.7 701.7 765 704 767C706.2 769 708 772.5 710 774.5C712 776.5 714.5 777.5 716 779C717.5 780.5 718.7 781.7 719 783.5C719.2 785.2 718.7 788 717.5 789.5C716.2 791 713.2 791.2 711.5 792.5C709.7 793.7 709.2 795.2 707 797C704.7 798.7 701 801 698 803C695 805 691.2 807 689 809C686.7 811 685.2 814 684.5 815"/>
<path class="k" d="M672.5 744.5C672.2 745.2 670.7 747.5 671 749C671.2 750.5 672.5 752.6 674 753.5C675.5 754.4 678.2 754.7 680 754.2C681.7 753.7 683.7 751.1 684.5 750.5"/>
<path class="k" d="M694.2 754.2C693.7 754.2 692 753.8 691.2 754.2C690.5 754.7 689.7 756 689.7 756.8C689.8 757.6 690.9 758.9 691.7 759.2C692.5 759.4 694.2 758.4 694.7 758.3"/>
<path class="k" d="M714.2 780.5C713.6 780.4 711.6 779.7 710.7 780.2C709.9 780.6 708.9 782.2 708.9 783.2C708.9 784.2 709.9 785.8 710.7 786.2C711.6 786.5 713.6 785.4 714.2 785.3"/>
<path class="k" d="M683 762.5C683.7 763.7 687 768.2 687.5 770C688 771.7 686.2 772.5 686 773"/>
<path class="k" d="M681.5 774.5C682 776.2 683 782.2 684.5 785C686 787.7 687.2 790.5 690.5 791C693.7 791.5 701 788 704 788C707 788 707.7 790.5 708.5 791"/>
<path class="k" d="M690.5 791C689.2 791.5 684.7 792.5 683 794C681.2 795.5 680 797.2 680 800C680 802.7 682.5 808.7 683 810.5"/>
<path class="k" d="M647 767C648.5 769.5 653.2 776.5 656 782C658.7 787.5 661.7 794.5 663.5 800C665.2 805.5 666 812.5 666.5 815"/>
<path class="k" d="M620 759.5C622 759.2 628 757.2 632 758C636 758.7 641 761.5 644 764C647 766.5 649 771.5 650 773"/>
<path class="k" d="M659 747.5 L669.5 752.7 L672.5 759.5 L671.7 770 L669.5 773 L656 779"/>
<path class="k" d="M655.2 761 L669.5 755"/>
<path class="k" d="M655.2 761 L656 778.2"/>
<path class="k" d="M705.5 783.5 L711.5 791"/>
<path class="k" d="M684.5 801.5 L687.5 806" style="stroke-width:3.2"/>
<ellipse class="k" cx="676.2" cy="767.7" rx="2.4" ry="3.9" transform="rotate(15 676.2 767.7)"/>
<ellipse class="b" cx="676.7" cy="768" rx="0.9" ry="1.8" transform="rotate(15 676.7 768)"/>
<ellipse class="k" cx="695" cy="778.2" rx="6" ry="3" transform="rotate(30 695 778.2)"/>
<path class="k" d="M544.5 816.5C544.7 818.7 544.7 825.2 546 830C547.2 834.7 549.5 841.2 552 845C554.5 848.7 559.5 851.2 561 852.5"/>
<path class="k" d="M561 863C561.5 864.7 562.2 871 564 873.5C565.7 876 568 876.2 571.5 878C575 879.7 581.5 882 585 884C588.5 886 591.2 889 592.5 890"/>
<path class="k" d="M591 819.5C592.5 818.5 597.5 815.5 600 813.5C602.5 811.5 605 808.5 606 807.5"/>
<path class="k" d="M589.5 816.5 L597 809"/>
<path class="k" d="M604.5 819.5C605.2 822.5 608 831.2 609 837.5C610 843.7 610.5 851.7 610.5 857C610.5 862.2 609.2 867 609 869"/>
<path class="k" d="M612 809C613 812.5 616.5 823.2 618 830C619.5 836.7 620.7 843.5 621 849.5C621.2 855.5 619.7 863.2 619.5 866"/>
<path class="k" d="M615 804.5C616.5 808.2 622 820.2 624 827C626 833.7 626.7 839 627 845C627.2 851 625.7 860 625.5 863"/>
<path class="k" d="M570 873.5 L591 873.5"/>
<path class="k" d="M607.5 845 L613.5 851"/>
<path class="k" d="M609 870.5 L636 860 L654 852.5 L660 849.5"/>
<path class="w" d="M557.2 830C556.7 825.7 557.9 821.1 559.5 818C561.1 814.9 564 812.1 567 811.2C570 810.4 574 810.9 577.5 812.7C581 814.6 585.1 818.4 588 822.5C590.9 826.6 593.5 833 594.7 837.5C596 842 596.1 846.1 595.5 849.5C594.9 852.9 593.2 856.1 591 857.7C588.7 859.4 585.2 860.1 582 859.2C578.7 858.4 574.7 855.1 571.5 852.5C568.2 849.9 564.9 847.2 562.5 843.5C560.1 839.7 557.7 834.2 557.2 830Z"/>
<path class="k" d="M578.7 833.3C578.2 833.2 576.6 832.6 576 833C575.3 833.4 574.7 834.8 574.8 835.7C574.8 836.5 575.6 837.8 576.3 838.1C576.9 838.4 578.3 837.6 578.7 837.5"/>
<ellipse class="w" cx="550.5" cy="809.7" rx="3.3" ry="3.3"/>
<ellipse class="w" cx="564" cy="857" rx="3.3" ry="3.3"/>
<ellipse class="w" cx="594.7" cy="866" rx="3.9" ry="3.9"/>
<ellipse class="k" cx="604.5" cy="836" rx="4" ry="4.8" transform="rotate(10 604.5 836)"/>
<ellipse class="k" cx="604.8" cy="836" rx="2.1" ry="2.7" transform="rotate(10 604.8 836)"/>
<ellipse class="k" cx="604.5" cy="836" rx="3.3" ry="4" transform="rotate(10 604.5 836)" style="stroke-width:3"/>
<path class="k" d="M665.5 855.5C664.5 856 660.7 856.7 659.5 858.5C658.2 860.2 657.7 864 658 866C658.2 868 660.5 869.7 661 870.5"/>
<path class="k" d="M668.5 861.5C667.9 862 665.2 863.2 664.7 864.5C664.2 865.7 664.7 868.1 665.5 869C666.2 869.9 668.6 869.6 669.2 869.7"/>
<path class="k" d="M614.5 879.5C613.5 880.2 609.5 882 608.5 884C607.5 886 608.5 890.2 608.5 891.5"/>
<path class="k" d="M619.7 884C619.1 884.5 616.6 885.7 616 887C615.4 888.2 615.4 890.6 616 891.5C616.6 892.4 619.1 892.1 619.7 892.2"/>
<path class="k" d="M608.5 842C608.2 845 607.5 855.7 607 860C606.5 864.2 605.7 866.2 605.5 867.5"/>
<path class="k" d="M617.5 830C617.7 833 619.7 841.5 619 848C618.2 854.5 614 865.5 613 869"/>
<path class="k" d="M625 830C625.2 832.5 626.7 840 626.5 845C626.2 850 624.5 856.2 623.5 860C622.5 863.7 621 866.2 620.5 867.5"/>
<path class="k" d="M659.5 830C659.2 832.5 659 841.2 658 845C657 848.7 654.2 851.2 653.5 852.5"/>
<path class="k" d="M667 830C666.7 832 666.5 839 665.5 842C664.5 845 661.7 847 661 848"/>
<path class="k" d="M635.5 861.5 L659.5 875 L670 872 L671.5 864.5 L673.7 845 L676 840.5"/>
<path class="k" d="M646 856.2 L650.5 854.7 L652 860"/>
<path class="k" d="M580 873.5 L601 882.5 L611.5 898.2 L622 894.5 L623.5 887 L622 875 L620.5 867.5"/>
<path class="k" d="M580 881 L611.5 898.2"/>
<path class="k" d="M610 870.5 L635.5 861.5 L650.5 854 L664 846.5 L676 840.5 L688 830"/>
<path class="k" d="M652 852.5 L653.5 870.5" style="stroke-width:3.2"/>
<path class="k" d="M602.5 872 L604 890" style="stroke-width:3.2"/>
<ellipse class="w" cx="595" cy="866" rx="3.9" ry="3.9"/>
<ellipse class="k" cx="605.5" cy="836" rx="3.7" ry="4.5" transform="rotate(10 605.5 836)"/>
<path class="k" d="M645.5 785.2C646.2 785.9 648.2 786.1 650 789C651.7 791.9 654.4 797 656 802.5C657.6 808 659.2 815.7 659.7 822C660.2 828.2 659.9 835.2 659 840C658.1 844.7 656 848 654.5 850.5C653 853 650.7 854.2 650 855"/>
<path class="k" d="M654.5 780C656 783.2 661.2 793 663.5 799.5C665.7 806 667.2 813.2 668 819C668.7 824.7 668.7 829.5 668 834C667.2 838.5 665.5 843 663.5 846C661.5 849 657.2 851 656 852"/>
<path class="k" d="M719 783C718.5 784.2 718.5 787.7 716 790.5C713.5 793.2 707.7 797 704 799.5C700.2 802 695.2 802.7 693.5 805.5C691.7 808.2 694.2 812.5 693.5 816C692.7 819.5 690.7 823.5 689 826.5C687.2 829.5 685.2 831.5 683 834C680.7 836.5 678.5 839.5 675.5 841.5C672.5 843.5 668.5 844.2 665 846C661.5 847.7 656.2 851 654.5 852"/>
<path class="k" d="M680 795C681 794.5 682.5 792 686 792C689.5 792 698 793.7 701 795C704 796.2 703.5 798.7 704 799.5"/>
<path class="k" d="M686 816 L684.5 828"/>
<path class="k" d="M620 813C620.7 815.7 623.5 823.7 624.5 829.5C625.5 835.2 626.2 841.7 626 847.5C625.7 853.2 623.5 861.2 623 864"/>
<path class="k" d="M620 796.5 L645.5 785.2"/>
<path class="k" d="M680 795 L683 810" style="stroke-width:3.2"/>
</g>
<!-- COMPRESSOR 87015A (upper) -->
<g id="compU" transform="translate(0,-414.5)">
<path class="k" d="M547.5 803C548 801.7 549 797.5 550.5 795.5C552 793.5 554.7 792.7 556.5 791C558.2 789.2 560.2 786 561 785"/>
<path class="k" d="M566.2 780.5C566.7 778.5 567.5 770.2 569.2 768.5C571 766.7 575.4 769.2 576.7 770C578.1 770.7 578.2 771.5 577.5 773C576.7 774.5 573.1 778 572.2 779"/>
<path class="k" d="M574.5 788C576.2 788.7 582 791 585 792.5C588 794 591.2 796.2 592.5 797"/>
<path class="k" d="M621 785C620.2 784.7 617.7 783 616.5 783.5C615.2 784 613.6 786.5 613.5 788C613.4 789.5 614.6 791.9 615.7 792.5C616.9 793.1 619.5 791.9 620.2 791.7"/>
<path class="k" d="M573 788C572.7 789.5 571.2 793.5 571.5 797C571.7 800.5 573.2 806 574.5 809C575.7 812 578.2 814 579 815"/>
<path class="k" d="M585 795.5C586.2 795.7 590 795.7 592.5 797C595 798.2 598.2 801 600 803C601.7 805 602.5 808 603 809"/>
<path class="k" d="M606 800C605.7 801.5 604.5 806.5 604.5 809C604.5 811.5 605.7 814 606 815"/>
<path class="k" d="M561 785 L562.5 774.5 L565.5 761 L575.2 755.7 L598.5 767 L606 770"/>
<path class="k" d="M568.5 763.2 L597 776"/>
<path class="k" d="M579 776 L600 785"/>
<path class="k" d="M576 783.5 L597 791"/>
<path class="k" d="M612 758 L613.5 738.5 L622.5 731.7 L660 749"/>
<path class="k" d="M617.2 756.5 L618 744.5 L624 741.5"/>
<path class="k" d="M627 750.5 L627 755 L618 758.7"/>
<path class="k" d="M628.5 753.5 L654 765.5"/>
<path class="k" d="M598.5 767 L615 760.2 L630 758.7 L642 765.5 L652.5 776"/>
<path class="k" d="M606 780.5 L607.5 797"/>
<path class="k" d="M609 777.5 L610.5 795.5"/>
<path class="k" d="M621.7 764.7 L621.7 773 L636 774.5 L637.5 770 L633 765.5 L621.7 764.7"/>
<path class="k" d="M624 776 L630 777.5 L628.5 785 L624 783.5"/>
<path class="k" d="M610.5 797 L630 789.5 L645 783.5"/>
<path class="k" d="M619.5 741.8 L654 758.3" style="stroke-width:3.2"/>
<path class="k" d="M599.2 770 L600 779 L606 780.5 L606 771.5Z" style="fill:#000"/>
<ellipse class="k" cx="623.2" cy="747.5" rx="1.5" ry="1.5"/>
<ellipse class="w" cx="579" cy="795.5" rx="3.7" ry="3.7"/>
<ellipse class="w" cx="576" cy="791" rx="2.7" ry="2.7"/>
<ellipse class="w" cx="550.5" cy="810.5" rx="3" ry="3"/>
<ellipse class="k" cx="573.7" cy="770" rx="1.2" ry="1.2"/>
<path class="k" d="M668 762.5C667.4 762.4 665.3 761.2 664.2 761.7C663.2 762.2 661.8 764.2 661.7 765.5C661.6 766.7 662.4 768.7 663.5 769.2C664.5 769.7 667.2 768.6 668 768.5"/>
<path class="k" d="M659 747.5C660 746.7 662.7 744.2 665 743C667.2 741.7 670 740.2 672.5 740C675 739.7 677.7 740.2 680 741.5C682.2 742.7 684 746 686 747.5C688 749 690.2 749.5 692 750.5C693.7 751.5 695.5 752 696.5 753.5C697.5 755 698 758 698 759.5C698 761 695.5 761.2 696.5 762.5C697.5 763.7 701.7 765 704 767C706.2 769 708 772.5 710 774.5C712 776.5 714.5 777.5 716 779C717.5 780.5 718.7 781.7 719 783.5C719.2 785.2 718.7 788 717.5 789.5C716.2 791 713.2 791.2 711.5 792.5C709.7 793.7 709.2 795.2 707 797C704.7 798.7 701 801 698 803C695 805 691.2 807 689 809C686.7 811 685.2 814 684.5 815"/>
<path class="k" d="M672.5 744.5C672.2 745.2 670.7 747.5 671 749C671.2 750.5 672.5 752.6 674 753.5C675.5 754.4 678.2 754.7 680 754.2C681.7 753.7 683.7 751.1 684.5 750.5"/>
<path class="k" d="M694.2 754.2C693.7 754.2 692 753.8 691.2 754.2C690.5 754.7 689.7 756 689.7 756.8C689.8 757.6 690.9 758.9 691.7 759.2C692.5 759.4 694.2 758.4 694.7 758.3"/>
<path class="k" d="M714.2 780.5C713.6 780.4 711.6 779.7 710.7 780.2C709.9 780.6 708.9 782.2 708.9 783.2C708.9 784.2 709.9 785.8 710.7 786.2C711.6 786.5 713.6 785.4 714.2 785.3"/>
<path class="k" d="M683 762.5C683.7 763.7 687 768.2 687.5 770C688 771.7 686.2 772.5 686 773"/>
<path class="k" d="M681.5 774.5C682 776.2 683 782.2 684.5 785C686 787.7 687.2 790.5 690.5 791C693.7 791.5 701 788 704 788C707 788 707.7 790.5 708.5 791"/>
<path class="k" d="M690.5 791C689.2 791.5 684.7 792.5 683 794C681.2 795.5 680 797.2 680 800C680 802.7 682.5 808.7 683 810.5"/>
<path class="k" d="M647 767C648.5 769.5 653.2 776.5 656 782C658.7 787.5 661.7 794.5 663.5 800C665.2 805.5 666 812.5 666.5 815"/>
<path class="k" d="M620 759.5C622 759.2 628 757.2 632 758C636 758.7 641 761.5 644 764C647 766.5 649 771.5 650 773"/>
<path class="k" d="M659 747.5 L669.5 752.7 L672.5 759.5 L671.7 770 L669.5 773 L656 779"/>
<path class="k" d="M655.2 761 L669.5 755"/>
<path class="k" d="M655.2 761 L656 778.2"/>
<path class="k" d="M705.5 783.5 L711.5 791"/>
<path class="k" d="M684.5 801.5 L687.5 806" style="stroke-width:3.2"/>
<ellipse class="k" cx="676.2" cy="767.7" rx="2.4" ry="3.9" transform="rotate(15 676.2 767.7)"/>
<ellipse class="b" cx="676.7" cy="768" rx="0.9" ry="1.8" transform="rotate(15 676.7 768)"/>
<ellipse class="k" cx="695" cy="778.2" rx="6" ry="3" transform="rotate(30 695 778.2)"/>
<path class="k" d="M544.5 816.5C544.7 818.7 544.7 825.2 546 830C547.2 834.7 549.5 841.2 552 845C554.5 848.7 559.5 851.2 561 852.5"/>
<path class="k" d="M561 863C561.5 864.7 562.2 871 564 873.5C565.7 876 568 876.2 571.5 878C575 879.7 581.5 882 585 884C588.5 886 591.2 889 592.5 890"/>
<path class="k" d="M591 819.5C592.5 818.5 597.5 815.5 600 813.5C602.5 811.5 605 808.5 606 807.5"/>
<path class="k" d="M589.5 816.5 L597 809"/>
<path class="k" d="M604.5 819.5C605.2 822.5 608 831.2 609 837.5C610 843.7 610.5 851.7 610.5 857C610.5 862.2 609.2 867 609 869"/>
<path class="k" d="M612 809C613 812.5 616.5 823.2 618 830C619.5 836.7 620.7 843.5 621 849.5C621.2 855.5 619.7 863.2 619.5 866"/>
<path class="k" d="M615 804.5C616.5 808.2 622 820.2 624 827C626 833.7 626.7 839 627 845C627.2 851 625.7 860 625.5 863"/>
<path class="k" d="M570 873.5 L591 873.5"/>
<path class="k" d="M607.5 845 L613.5 851"/>
<path class="k" d="M609 870.5 L636 860 L654 852.5 L660 849.5"/>
<path class="w" d="M557.2 830C556.7 825.7 557.9 821.1 559.5 818C561.1 814.9 564 812.1 567 811.2C570 810.4 574 810.9 577.5 812.7C581 814.6 585.1 818.4 588 822.5C590.9 826.6 593.5 833 594.7 837.5C596 842 596.1 846.1 595.5 849.5C594.9 852.9 593.2 856.1 591 857.7C588.7 859.4 585.2 860.1 582 859.2C578.7 858.4 574.7 855.1 571.5 852.5C568.2 849.9 564.9 847.2 562.5 843.5C560.1 839.7 557.7 834.2 557.2 830Z"/>
<path class="k" d="M578.7 833.3C578.2 833.2 576.6 832.6 576 833C575.3 833.4 574.7 834.8 574.8 835.7C574.8 836.5 575.6 837.8 576.3 838.1C576.9 838.4 578.3 837.6 578.7 837.5"/>
<ellipse class="w" cx="550.5" cy="809.7" rx="3.3" ry="3.3"/>
<ellipse class="w" cx="564" cy="857" rx="3.3" ry="3.3"/>
<ellipse class="w" cx="594.7" cy="866" rx="3.9" ry="3.9"/>
<ellipse class="k" cx="604.5" cy="836" rx="4" ry="4.8" transform="rotate(10 604.5 836)"/>
<ellipse class="k" cx="604.8" cy="836" rx="2.1" ry="2.7" transform="rotate(10 604.8 836)"/>
<ellipse class="k" cx="604.5" cy="836" rx="3.3" ry="4" transform="rotate(10 604.5 836)" style="stroke-width:3"/>
<path class="k" d="M665.5 855.5C664.5 856 660.7 856.7 659.5 858.5C658.2 860.2 657.7 864 658 866C658.2 868 660.5 869.7 661 870.5"/>
<path class="k" d="M668.5 861.5C667.9 862 665.2 863.2 664.7 864.5C664.2 865.7 664.7 868.1 665.5 869C666.2 869.9 668.6 869.6 669.2 869.7"/>
<path class="k" d="M614.5 879.5C613.5 880.2 609.5 882 608.5 884C607.5 886 608.5 890.2 608.5 891.5"/>
<path class="k" d="M619.7 884C619.1 884.5 616.6 885.7 616 887C615.4 888.2 615.4 890.6 616 891.5C616.6 892.4 619.1 892.1 619.7 892.2"/>
<path class="k" d="M608.5 842C608.2 845 607.5 855.7 607 860C606.5 864.2 605.7 866.2 605.5 867.5"/>
<path class="k" d="M617.5 830C617.7 833 619.7 841.5 619 848C618.2 854.5 614 865.5 613 869"/>
<path class="k" d="M625 830C625.2 832.5 626.7 840 626.5 845C626.2 850 624.5 856.2 623.5 860C622.5 863.7 621 866.2 620.5 867.5"/>
<path class="k" d="M659.5 830C659.2 832.5 659 841.2 658 845C657 848.7 654.2 851.2 653.5 852.5"/>
<path class="k" d="M667 830C666.7 832 666.5 839 665.5 842C664.5 845 661.7 847 661 848"/>
<path class="k" d="M635.5 861.5 L659.5 875 L670 872 L671.5 864.5 L673.7 845 L676 840.5"/>
<path class="k" d="M646 856.2 L650.5 854.7 L652 860"/>
<path class="k" d="M580 873.5 L601 882.5 L611.5 898.2 L622 894.5 L623.5 887 L622 875 L620.5 867.5"/>
<path class="k" d="M580 881 L611.5 898.2"/>
<path class="k" d="M610 870.5 L635.5 861.5 L650.5 854 L664 846.5 L676 840.5 L688 830"/>
<path class="k" d="M652 852.5 L653.5 870.5" style="stroke-width:3.2"/>
<path class="k" d="M602.5 872 L604 890" style="stroke-width:3.2"/>
<ellipse class="w" cx="595" cy="866" rx="3.9" ry="3.9"/>
<ellipse class="k" cx="605.5" cy="836" rx="3.7" ry="4.5" transform="rotate(10 605.5 836)"/>
<path class="k" d="M645.5 785.2C646.2 785.9 648.2 786.1 650 789C651.7 791.9 654.4 797 656 802.5C657.6 808 659.2 815.7 659.7 822C660.2 828.2 659.9 835.2 659 840C658.1 844.7 656 848 654.5 850.5C653 853 650.7 854.2 650 855"/>
<path class="k" d="M654.5 780C656 783.2 661.2 793 663.5 799.5C665.7 806 667.2 813.2 668 819C668.7 824.7 668.7 829.5 668 834C667.2 838.5 665.5 843 663.5 846C661.5 849 657.2 851 656 852"/>
<path class="k" d="M719 783C718.5 784.2 718.5 787.7 716 790.5C713.5 793.2 707.7 797 704 799.5C700.2 802 695.2 802.7 693.5 805.5C691.7 808.2 694.2 812.5 693.5 816C692.7 819.5 690.7 823.5 689 826.5C687.2 829.5 685.2 831.5 683 834C680.7 836.5 678.5 839.5 675.5 841.5C672.5 843.5 668.5 844.2 665 846C661.5 847.7 656.2 851 654.5 852"/>
<path class="k" d="M680 795C681 794.5 682.5 792 686 792C689.5 792 698 793.7 701 795C704 796.2 703.5 798.7 704 799.5"/>
<path class="k" d="M686 816 L684.5 828"/>
<path class="k" d="M620 813C620.7 815.7 623.5 823.7 624.5 829.5C625.5 835.2 626.2 841.7 626 847.5C625.7 853.2 623.5 861.2 623 864"/>
<path class="k" d="M620 796.5 L645.5 785.2"/>
<path class="k" d="M680 795 L683 810" style="stroke-width:3.2"/>
<path class="k" d="M601.8 768L603 788L605.6 808" style="stroke-width:3.6;stroke-linecap:butt"/>
<path class="k" d="M600 809L607 828L615 850" style="stroke-width:3.4;stroke-linecap:butt;stroke-dasharray:4 2.2"/>
<path class="k" d="M606 771L612 773.5L622 775L630 771" style="stroke-width:3.2"/>
<path class="k" d="M624 779L630 781L636 779" style="stroke-width:2.8"/>
<ellipse class="w" cx="642" cy="773.8" rx="3.8" ry="4.6" transform="rotate(15 642 773.8)"/>
<path class="k" d="M644.5 771.5C641.5 770.5 639.8 772.5 640.2 775C640.6 777 642.5 777.6 644.5 776.6"/>
</g>
<!-- CLUTCH 87013A (lower) -->
<g id="clutchL">
<path class="w" d="M409 890C408.5 885.2 409.2 880 410.5 875C411.7 870 413.7 864.5 416.5 860C419.2 855.5 423.2 851.1 427 848C430.7 844.9 435 842.6 439 841.2C443 839.9 446.7 839.1 451 839.7C455.2 840.4 460 842.4 464.5 845C469 847.6 473.7 851 478 855.5C482.2 860 486.7 866.2 490 872C493.2 877.7 495.9 884.5 497.5 890C499.1 895.5 499.7 900 499.7 905C499.7 910 499.1 915.2 497.5 920C495.9 924.7 493 930 490 933.5C487 937 483.2 939.2 479.5 941C475.7 942.7 471.7 944 467.5 944C463.2 944 458.7 943 454 941C449.2 939 444 935.7 439 932C434 928.2 428.2 923.2 424 918.5C419.7 913.7 416 908.2 413.5 903.5C411 898.7 409.5 894.7 409 890Z"/>
<path class="k" d="M422.5 854.7C425 853.7 433 849.3 437.5 848.3C442 847.3 445.5 847.2 449.5 848.7C453.5 850.3 459.5 856 461.5 857.4"/>
<path class="k" d="M464.5 849.5C467 852 475.5 859 479.5 864.5C483.5 870 486.4 876.5 488.5 882.5C490.6 888.5 491.7 894.7 492.2 900.5C492.7 906.2 492.6 912 491.5 917C490.4 922 487.7 927 485.5 930.5C483.2 934 479.2 936.7 478 938"/>
<path class="k" d="M463 858.5C465 860.7 471.7 866.7 475 872C478.2 877.2 480.6 884 482.5 890C484.4 896 486 902.5 486.2 908C486.5 913.5 485.4 918.7 484 923C482.6 927.2 480.2 930.7 478 933.5C475.7 936.2 471.7 938.5 470.5 939.5"/>
<path class="k" d="M461.5 887C463 889.5 468.2 897 470.5 902C472.7 907 474.5 912.5 475 917C475.5 921.5 474.7 925.7 473.5 929C472.2 932.2 468.5 935.2 467.5 936.5"/>
<path class="k" d="M427 860C425.7 862.5 421.6 869.5 419.5 875C417.4 880.5 414.7 887.5 414.2 893C413.7 898.5 414.6 903.5 416.5 908C418.4 912.5 422 916.2 425.5 920C429 923.7 433.2 927.5 437.5 930.5C441.7 933.5 446.5 936.2 451 938C455.5 939.7 462.2 940.5 464.5 941"/>
<path class="k" d="M434.5 855.5C436.2 855.4 441.5 853.7 445 854.7C448.5 855.7 452.5 858.6 455.5 861.5C458.5 864.4 461.7 870.2 463 872"/>
<path class="k" d="M424 870.5C423.4 872.2 421.2 877.7 420.2 881C419.2 884.2 418.4 888.5 418 890"/>
<path class="k" d="M430 914C431.5 915.7 435.7 921.5 439 924.5C442.2 927.5 447.7 930.7 449.5 932"/>
<ellipse class="w" cx="440.5" cy="869.7" rx="11.2" ry="14.7" transform="rotate(-15 440.5 869.7)" style="stroke-width:2.9"/>
<ellipse class="b" cx="440.5" cy="870" rx="7" ry="10.6" transform="rotate(-15 440.5 870)"/>
<ellipse class="wf" cx="436" cy="868.2" rx="1.9" ry="6" transform="rotate(-15 436 868.2)"/>
<ellipse class="wf" cx="442.3" cy="864" rx="1.2" ry="1.2" transform="rotate(-15 442.3 864)"/>
<ellipse class="wf" cx="443.8" cy="869.7" rx="1.3" ry="1.3" transform="rotate(-15 443.8 869.7)"/>
<ellipse class="wf" cx="440.8" cy="875.4" rx="1.3" ry="1.3" transform="rotate(-15 440.8 875.4)"/>
<ellipse class="wf" cx="444.7" cy="875.4" rx="0.9" ry="0.9" transform="rotate(-15 444.7 875.4)"/>
<ellipse class="w" cx="422.5" cy="898.2" rx="8.7" ry="13.5" transform="rotate(-12 422.5 898.2)" style="stroke-width:2.9"/>
<ellipse class="b" cx="422.5" cy="898.7" rx="5.4" ry="9.7" transform="rotate(-12 422.5 898.7)"/>
<ellipse class="wf" cx="420.4" cy="894.9" rx="1.3" ry="4.5" transform="rotate(-12 420.4 894.9)"/>
<ellipse class="wf" cx="424.3" cy="897" rx="1" ry="1" transform="rotate(-12 424.3 897)"/>
<ellipse class="wf" cx="421.3" cy="902.4" rx="1.2" ry="1.2" transform="rotate(-12 421.3 902.4)"/>
<ellipse class="wf" cx="424.3" cy="903" rx="1" ry="1" transform="rotate(-12 424.3 903)"/>
<ellipse class="wf" cx="422.8" cy="906.5" rx="0.9" ry="0.9" transform="rotate(-12 422.8 906.5)"/>
<ellipse class="w" cx="461.5" cy="920" rx="10.8" ry="14.2" transform="rotate(-30 461.5 920)" style="stroke-width:2.9"/>
<ellipse class="b" cx="461.5" cy="920.6" rx="6.7" ry="10.3" transform="rotate(-30 461.5 920.6)"/>
<ellipse class="wf" cx="457.6" cy="916.7" rx="1.5" ry="4.5" transform="rotate(-30 457.6 916.7)"/>
<ellipse class="wf" cx="462.7" cy="913.7" rx="1.2" ry="1.2" transform="rotate(-30 462.7 913.7)"/>
<ellipse class="wf" cx="464.8" cy="919.2" rx="1.3" ry="1.3" transform="rotate(-30 464.8 919.2)"/>
<ellipse class="wf" cx="461.8" cy="924.5" rx="1.3" ry="1.3" transform="rotate(-30 461.8 924.5)"/>
<ellipse class="wf" cx="466" cy="925.1" rx="1" ry="1" transform="rotate(-30 466 925.1)"/>
<path class="w" d="M428.5 887C429.9 884.4 432 881.5 434.5 880.2C437 879 440.7 878.6 443.5 879.5C446.2 880.4 448.9 882.7 451 885.5C453.1 888.2 455.1 892.2 456.2 896C457.4 899.7 458.1 904.5 457.7 908C457.4 911.5 456.1 915.2 454 917C451.9 918.7 448 919 445 918.5C442 918 438.6 916.2 436 914C433.4 911.7 430.9 908 429.2 905C427.6 902 426.4 899 426.2 896C426.1 893 427.1 889.6 428.5 887Z" style="stroke-width:2.9"/>
<ellipse class="k" cx="439.7" cy="885.5" rx="4" ry="4.5" transform="rotate(-10 439.7 885.5)" style="stroke-width:2.9"/>
<ellipse class="k" cx="450.2" cy="911.7" rx="4" ry="4.5" transform="rotate(-10 450.2 911.7)" style="stroke-width:2.9"/>
<ellipse class="k" cx="440.5" cy="900.2" rx="5.4" ry="6" transform="rotate(-10 440.5 900.2)" style="stroke-width:2.9"/>
<ellipse class="b" cx="441.4" cy="901.1" rx="2.8" ry="3.3" transform="rotate(-10 441.4 901.1)"/>
<ellipse class="k" cx="428.5" cy="902.3" rx="2.7" ry="3.3" transform="rotate(-10 428.5 902.3)" style="stroke-width:2.9"/>
<ellipse class="b" cx="449.5" cy="896" rx="1.3" ry="1.3"/>
<ellipse class="b" cx="448.7" cy="890" rx="1.2" ry="1.2"/>
<ellipse class="b" cx="443.5" cy="911" rx="1.3" ry="1.3"/>
<ellipse class="b" cx="430.7" cy="893" rx="1.3" ry="1.3"/>
<ellipse class="b" cx="436" cy="918.5" rx="1.2" ry="1.2"/>
<ellipse class="b" cx="432.2" cy="908.7" rx="1.2" ry="1.2"/>
<ellipse class="b" cx="451.7" cy="902" rx="1" ry="1"/>
<ellipse class="b" cx="434.5" cy="882.5" rx="1" ry="1"/>
<ellipse class="b" cx="454" cy="908" rx="1" ry="1"/>
<path class="k" d="M427 887.7 L427 896 L430.7 896"/>
<path class="k" d="M460.7 887 L463 887"/>
<path class="k" d="M423.2 869.7 L425.5 871.2"/>
</g>
<!-- CLUTCH on compressor (upper) -->
<g id="clutchU" transform="translate(108.4,-467)">
<path class="w" d="M409 890C408.5 885.2 409.2 880 410.5 875C411.7 870 413.7 864.5 416.5 860C419.2 855.5 423.2 851.1 427 848C430.7 844.9 435 842.6 439 841.2C443 839.9 446.7 839.1 451 839.7C455.2 840.4 460 842.4 464.5 845C469 847.6 473.7 851 478 855.5C482.2 860 486.7 866.2 490 872C493.2 877.7 495.9 884.5 497.5 890C499.1 895.5 499.7 900 499.7 905C499.7 910 499.1 915.2 497.5 920C495.9 924.7 493 930 490 933.5C487 937 483.2 939.2 479.5 941C475.7 942.7 471.7 944 467.5 944C463.2 944 458.7 943 454 941C449.2 939 444 935.7 439 932C434 928.2 428.2 923.2 424 918.5C419.7 913.7 416 908.2 413.5 903.5C411 898.7 409.5 894.7 409 890Z"/>
<path class="k" d="M422.5 854.7C425 853.7 433 849.3 437.5 848.3C442 847.3 445.5 847.2 449.5 848.7C453.5 850.3 459.5 856 461.5 857.4"/>
<path class="k" d="M464.5 849.5C467 852 475.5 859 479.5 864.5C483.5 870 486.4 876.5 488.5 882.5C490.6 888.5 491.7 894.7 492.2 900.5C492.7 906.2 492.6 912 491.5 917C490.4 922 487.7 927 485.5 930.5C483.2 934 479.2 936.7 478 938"/>
<path class="k" d="M463 858.5C465 860.7 471.7 866.7 475 872C478.2 877.2 480.6 884 482.5 890C484.4 896 486 902.5 486.2 908C486.5 913.5 485.4 918.7 484 923C482.6 927.2 480.2 930.7 478 933.5C475.7 936.2 471.7 938.5 470.5 939.5"/>
<path class="k" d="M461.5 887C463 889.5 468.2 897 470.5 902C472.7 907 474.5 912.5 475 917C475.5 921.5 474.7 925.7 473.5 929C472.2 932.2 468.5 935.2 467.5 936.5"/>
<path class="k" d="M427 860C425.7 862.5 421.6 869.5 419.5 875C417.4 880.5 414.7 887.5 414.2 893C413.7 898.5 414.6 903.5 416.5 908C418.4 912.5 422 916.2 425.5 920C429 923.7 433.2 927.5 437.5 930.5C441.7 933.5 446.5 936.2 451 938C455.5 939.7 462.2 940.5 464.5 941"/>
<path class="k" d="M434.5 855.5C436.2 855.4 441.5 853.7 445 854.7C448.5 855.7 452.5 858.6 455.5 861.5C458.5 864.4 461.7 870.2 463 872"/>
<path class="k" d="M424 870.5C423.4 872.2 421.2 877.7 420.2 881C419.2 884.2 418.4 888.5 418 890"/>
<path class="k" d="M430 914C431.5 915.7 435.7 921.5 439 924.5C442.2 927.5 447.7 930.7 449.5 932"/>
<ellipse class="w" cx="440.5" cy="869.7" rx="11.2" ry="14.7" transform="rotate(-15 440.5 869.7)" style="stroke-width:2.9"/>
<ellipse class="b" cx="440.5" cy="870" rx="7" ry="10.6" transform="rotate(-15 440.5 870)"/>
<ellipse class="wf" cx="436" cy="868.2" rx="1.9" ry="6" transform="rotate(-15 436 868.2)"/>
<ellipse class="wf" cx="442.3" cy="864" rx="1.2" ry="1.2" transform="rotate(-15 442.3 864)"/>
<ellipse class="wf" cx="443.8" cy="869.7" rx="1.3" ry="1.3" transform="rotate(-15 443.8 869.7)"/>
<ellipse class="wf" cx="440.8" cy="875.4" rx="1.3" ry="1.3" transform="rotate(-15 440.8 875.4)"/>
<ellipse class="wf" cx="444.7" cy="875.4" rx="0.9" ry="0.9" transform="rotate(-15 444.7 875.4)"/>
<ellipse class="w" cx="422.5" cy="898.2" rx="8.7" ry="13.5" transform="rotate(-12 422.5 898.2)" style="stroke-width:2.9"/>
<ellipse class="b" cx="422.5" cy="898.7" rx="5.4" ry="9.7" transform="rotate(-12 422.5 898.7)"/>
<ellipse class="wf" cx="420.4" cy="894.9" rx="1.3" ry="4.5" transform="rotate(-12 420.4 894.9)"/>
<ellipse class="wf" cx="424.3" cy="897" rx="1" ry="1" transform="rotate(-12 424.3 897)"/>
<ellipse class="wf" cx="421.3" cy="902.4" rx="1.2" ry="1.2" transform="rotate(-12 421.3 902.4)"/>
<ellipse class="wf" cx="424.3" cy="903" rx="1" ry="1" transform="rotate(-12 424.3 903)"/>
<ellipse class="wf" cx="422.8" cy="906.5" rx="0.9" ry="0.9" transform="rotate(-12 422.8 906.5)"/>
<ellipse class="w" cx="461.5" cy="920" rx="10.8" ry="14.2" transform="rotate(-30 461.5 920)" style="stroke-width:2.9"/>
<ellipse class="b" cx="461.5" cy="920.6" rx="6.7" ry="10.3" transform="rotate(-30 461.5 920.6)"/>
<ellipse class="wf" cx="457.6" cy="916.7" rx="1.5" ry="4.5" transform="rotate(-30 457.6 916.7)"/>
<ellipse class="wf" cx="462.7" cy="913.7" rx="1.2" ry="1.2" transform="rotate(-30 462.7 913.7)"/>
<ellipse class="wf" cx="464.8" cy="919.2" rx="1.3" ry="1.3" transform="rotate(-30 464.8 919.2)"/>
<ellipse class="wf" cx="461.8" cy="924.5" rx="1.3" ry="1.3" transform="rotate(-30 461.8 924.5)"/>
<ellipse class="wf" cx="466" cy="925.1" rx="1" ry="1" transform="rotate(-30 466 925.1)"/>
<path class="w" d="M428.5 887C429.9 884.4 432 881.5 434.5 880.2C437 879 440.7 878.6 443.5 879.5C446.2 880.4 448.9 882.7 451 885.5C453.1 888.2 455.1 892.2 456.2 896C457.4 899.7 458.1 904.5 457.7 908C457.4 911.5 456.1 915.2 454 917C451.9 918.7 448 919 445 918.5C442 918 438.6 916.2 436 914C433.4 911.7 430.9 908 429.2 905C427.6 902 426.4 899 426.2 896C426.1 893 427.1 889.6 428.5 887Z" style="stroke-width:2.9"/>
<ellipse class="k" cx="439.7" cy="885.5" rx="4" ry="4.5" transform="rotate(-10 439.7 885.5)" style="stroke-width:2.9"/>
<ellipse class="k" cx="450.2" cy="911.7" rx="4" ry="4.5" transform="rotate(-10 450.2 911.7)" style="stroke-width:2.9"/>
<ellipse class="k" cx="440.5" cy="900.2" rx="5.4" ry="6" transform="rotate(-10 440.5 900.2)" style="stroke-width:2.9"/>
<ellipse class="b" cx="441.4" cy="901.1" rx="2.8" ry="3.3" transform="rotate(-10 441.4 901.1)"/>
<ellipse class="k" cx="428.5" cy="902.3" rx="2.7" ry="3.3" transform="rotate(-10 428.5 902.3)" style="stroke-width:2.9"/>
<ellipse class="b" cx="449.5" cy="896" rx="1.3" ry="1.3"/>
<ellipse class="b" cx="448.7" cy="890" rx="1.2" ry="1.2"/>
<ellipse class="b" cx="443.5" cy="911" rx="1.3" ry="1.3"/>
<ellipse class="b" cx="430.7" cy="893" rx="1.3" ry="1.3"/>
<ellipse class="b" cx="436" cy="918.5" rx="1.2" ry="1.2"/>
<ellipse class="b" cx="432.2" cy="908.7" rx="1.2" ry="1.2"/>
<ellipse class="b" cx="451.7" cy="902" rx="1" ry="1"/>
<ellipse class="b" cx="434.5" cy="882.5" rx="1" ry="1"/>
<ellipse class="b" cx="454" cy="908" rx="1" ry="1"/>
<path class="k" d="M427 887.7 L427 896 L430.7 896"/>
<path class="k" d="M460.7 887 L463 887"/>
<path class="k" d="M423.2 869.7 L425.5 871.2"/>
</g>
<!-- FR ARROW -->
<path class="w" d="M42.5 1003 L46.3 1010 L28.8 1020 L31.3 1027 L14.5 1023 L18.8 1007.5 L22 1014.5Z"/>
<!-- CONNECTOR / WIRE -->
<path class="c" d="M496.3 873.4 L548.8 848.1"/>
<path class="k" d="M494.8 862.2C494.6 860.1 493.7 848.2 493.4 844.4C493.2 840.6 492 831.8 492.5 829.4C493.1 826.9 495.7 824.3 498.1 823.4C500.5 822.5 511.4 822.1 513.1 821.9" style="stroke-width:3"/>
<path class="k" d="M486.9 861.6 L490.6 858.4 L496.3 862.6"/>
<path class="w" d="M513.1 821.9 L515.9 815.3 L531.9 816.3 L533.8 821.9 L539.4 823.8 L540.3 829.4 L535.6 834.1 L520.6 833.1 L516.9 827.5Z"/>
<path class="k" d="M520.6 821.9 L528.1 821.9 L528.1 830.3 L520.6 830.3 L520.6 821.9M520.6 826 L528.1 826M524.4 821.9 L524.4 830.3"/>
<ellipse class="k" cx="534.3" cy="827.1" rx="3.6" ry="5.2"/>
<!-- LABELS -->
<g id="labels">
<text class="t" transform="translate(354.3,105.4) scale(1.07,1)">87061</text>
<text class="t" transform="translate(426.6,105.4) scale(0.9,1)">A</text>
<text class="t" transform="translate(486.3,134.5) scale(1.07,1)">87005</text>
<text class="t" transform="translate(551.3,165) scale(1.07,1)">87684</text>
<text class="t" transform="translate(623.5,165) scale(0.9,1)">C</text>
<text class="t" transform="translate(142.8,550) scale(1.07,1)">87075</text>
<text class="t" transform="translate(282.3,550) scale(1.07,1)">87684</text>
<text class="t" transform="translate(354.6,550) scale(1.0,1)">E</text>
<text class="t" transform="translate(331.8,520.5) scale(1.07,1)">87684</text>
<text class="t" transform="translate(404.1,520.5) scale(0.95,1)">D</text>
<text class="t" transform="translate(387.8,550) scale(1.07,1)">87003</text>
<text class="t" transform="translate(558.8,550) scale(1.07,1)">87015</text>
<text class="t" transform="translate(631,550) scale(0.9,1)">A</text>
<text class="t" transform="translate(621.8,580) scale(1.07,1)">87684</text>
<text class="t" transform="translate(694,580) scale(0.98,1)">B</text>
<text class="t" transform="translate(501.3,643.5) scale(1.07,1)">87015</text>
<text class="t" transform="translate(573.5,643.5) scale(0.9,1)">A</text>
<text class="t" transform="translate(412.3,703) scale(1.07,1)">87013</text>
<text class="t" transform="translate(484.6,703) scale(0.9,1)">A</text>
<text class="t" transform="translate(590.8,703) scale(1.07,1)">87014</text>
<text class="t" transform="translate(663,703) scale(0.9,1)">A</text>
<text class="t" transform="translate(18.2,998.6) scale(1.0,1)">F</text>
<text class="t" transform="translate(33.3,998.6) scale(0.82,1)">R</text>
<text class="ts" transform="translate(700.3,1018.7) scale(0.82,1)">D</text>
<text class="ts" transform="translate(712,1018.7) scale(1.09,1)">00450</text>
</g>
<!-- WATERMARK -->
<g id="wm" class="blend">
<text class="wm" transform="translate(91.4,536.4) rotate(-8.0)" dx="0 0 0 -2 0 2 0 3 0 -3 0 0 3 -5 2 -2">WWW.JAPANCATS.RU</text>
<text class="wd" transform="translate(354.6,560.8) rotate(-8.0)">15.03.2016</text>
</g>
<!-- HIGHLIGHT -->
<ellipse cx="511.5" cy="823" rx="58.8" ry="45.7" fill="none" stroke="#e81c2a" stroke-width="2.4"/>
</svg>
</body>
</html>
